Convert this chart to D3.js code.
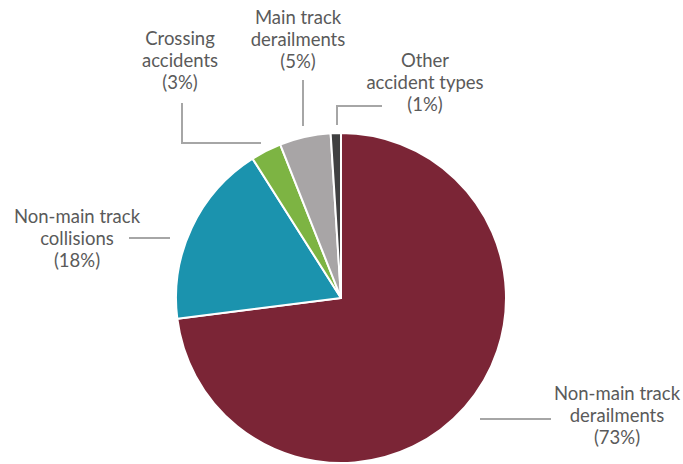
<!DOCTYPE html>
<html>
<head>
<meta charset="utf-8">
<script src="https://cdn.jsdelivr.net/npm/d3@7"></script>
<style>
  html, body { margin: 0; padding: 0; background: #fff; }
  svg { display: block; }
  text { font-family: Lato, "Open Sans", sans-serif; fill: #5a5a5a; }
</style>
</head>
<body>
<svg id="chart" width="683" height="464"></svg>
<script>
// Accident types, share of total (percent), in drawing order clockwise from 12 o'clock
const categories = [
  "Non-main track derailments",
  "Non-main track collisions",
  "Crossing accidents",
  "Main track derailments",
  "Other accident types"
];
const shares = [73, 18, 3, 5, 1];
const colors = ["#7b2536", "#1b93ae", "#7db443", "#a8a5a6", "#404041"];

// Label lines for each slice
const labelLines = [
  ["Non-main track", "derailments", "(73%)"],
  ["Non-main track", "collisions", "(18%)"],
  ["Crossing", "accidents", "(3%)"],
  ["Main track", "derailments", "(5%)"],
  ["Other", "accident types", "(1%)"]
];

// Label placement and leader-line routes
const labelLayout = [
  { x: 617, y: 400, leader: [[480, 419], [551, 419]] },
  { x: 77,  y: 223, leader: [[129, 238], [170, 238]] },
  { x: 180, y: 45,  leader: [[182, 103], [182, 143], [261, 143]] },
  { x: 298, y: 24,  leader: [[303, 80], [303, 126]] },
  { x: 425, y: 67,  leader: [[382, 106], [337, 106], [337, 125]] }
];

const svg = d3.select("#chart");
const cx = 341, cy = 298, radius = 165;

const data = categories.map((c, i) => ({ name: c, value: shares[i], color: colors[i], i }));

const pie = d3.pie().value(d => d.value).sort(null);
const arc = d3.arc().innerRadius(0).outerRadius(radius);

const g = svg.append("g").attr("transform", `translate(${cx},${cy})`);
g.selectAll("path")
  .data(pie(data))
  .join("path")
  .attr("d", arc)
  .attr("fill", d => d.data.color)
  .attr("stroke", "#fff")
  .attr("stroke-width", 2)
  .attr("stroke-linejoin", "round");

// Leader lines
const line = d3.line();
svg.selectAll("path.leader")
  .data(labelLayout)
  .join("path")
  .attr("class", "leader")
  .attr("d", d => line(d.leader))
  .attr("fill", "none")
  .attr("stroke", "#a6a6a6")
  .attr("stroke-width", 2);

// Labels
const lineHeight = 22;
const labels = svg.selectAll("text.lbl")
  .data(data)
  .join("text")
  .attr("class", "lbl")
  .attr("text-anchor", "middle")
  .attr("font-size", 18.5)
  .attr("x", d => labelLayout[d.i].x)
  .attr("y", d => labelLayout[d.i].y);

labels.selectAll("tspan")
  .data(d => labelLines[d.i].map(t => ({ t, x: labelLayout[d.i].x })))
  .join("tspan")
  .attr("x", d => d.x)
  .attr("dy", (d, k) => k === 0 ? 0 : lineHeight)
  .text(d => d.t);
</script>
</body>
</html>
